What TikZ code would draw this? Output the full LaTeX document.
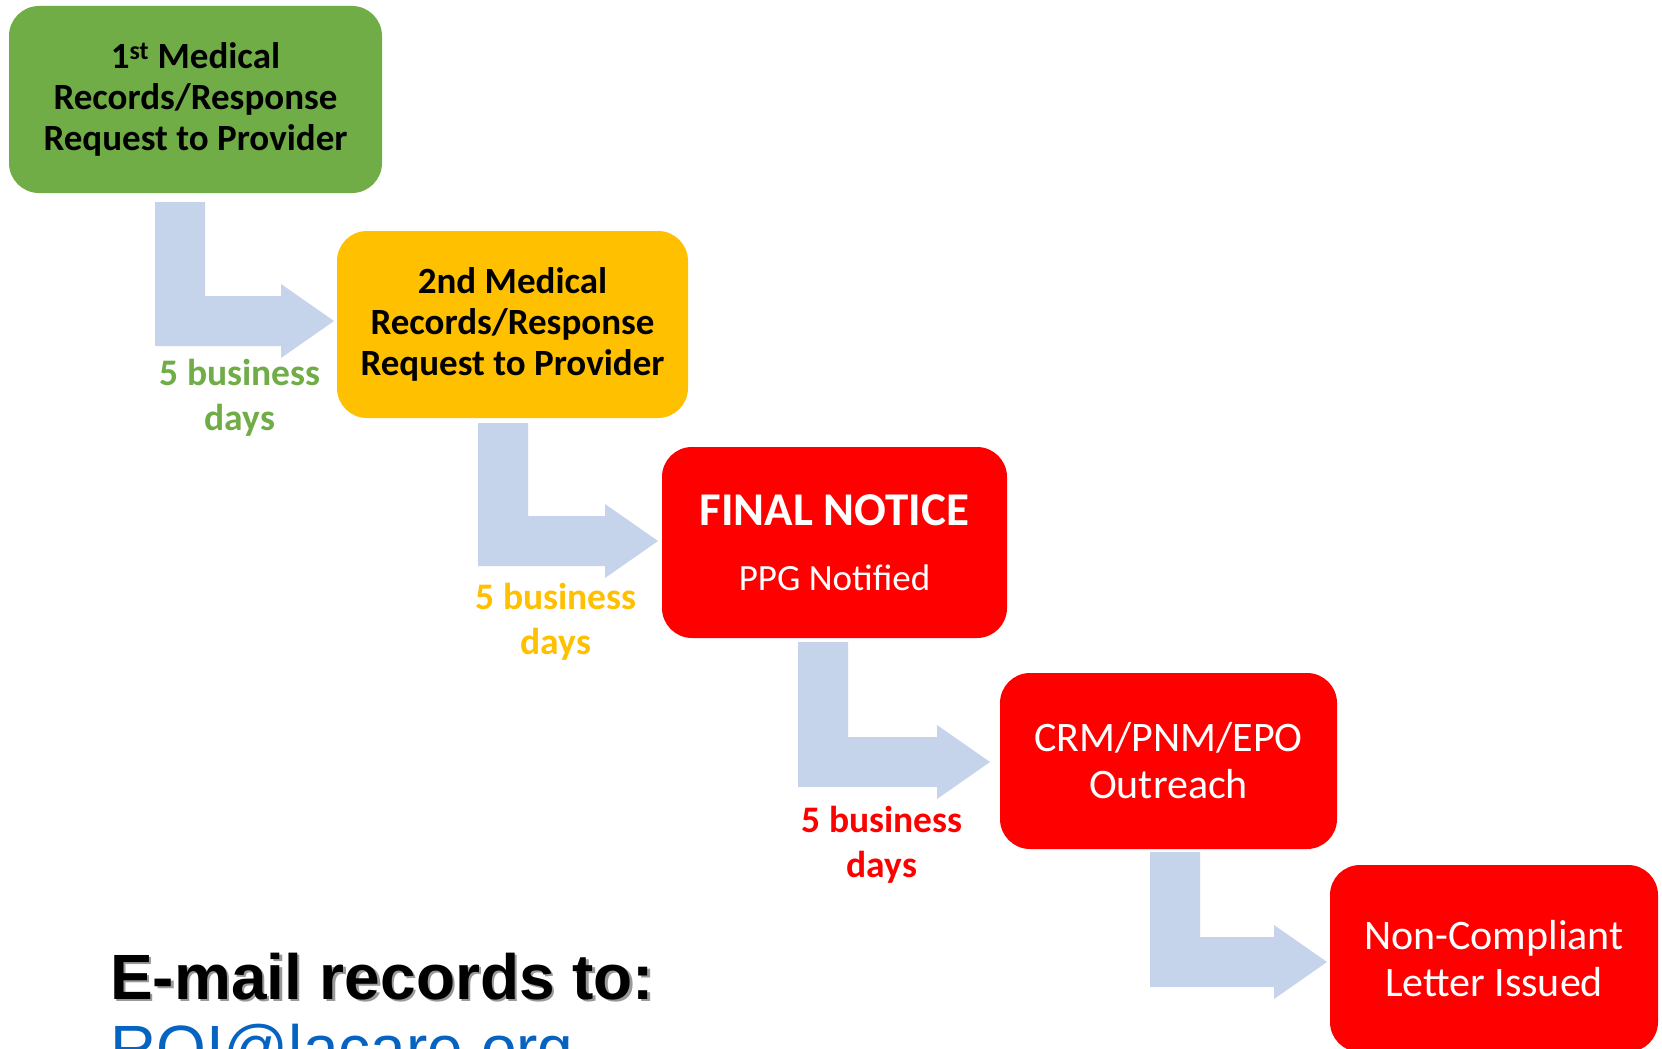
\documentclass[tikz,border=0pt]{standalone}
\usepackage{fontspec}
\setmainfont{Carlito}
\newfontfamily\arialfont{Liberation Sans}
\definecolor{boxgreen}{HTML}{70AD47}
\definecolor{boxgold}{HTML}{FFC000}
\definecolor{boxred}{HTML}{FF0000}
\definecolor{arrowblue}{RGB}{197,212,234}
\definecolor{linkblue}{HTML}{0563C1}
\begin{document}
\begin{tikzpicture}[x=1pt,y=-1pt,
  stepbox/.style={rounded corners=30pt, inner sep=0pt, align=center, draw=none},
  daylabel/.style={align=center, font=\bfseries\fontsize{37.5}{45}\selectfont},
  bentarrow/.style={fill=arrowblue, draw=none}]
\useasboundingbox (0,0) rectangle (1662,1049);
\fill[white] (0,0) rectangle (1662,1049);
% boxes
\node[stepbox, fill=boxgreen, minimum width=373pt, minimum height=187pt,
  font=\bfseries\fontsize{37}{41}\selectfont] (b1) at (195.5,99.5)
  {1\textsuperscript{st} Medical\\Records/Response\\Request to Provider};
\node[stepbox, fill=boxgold, minimum width=351pt, minimum height=187pt,
  font=\bfseries\fontsize{37}{41}\selectfont] (b2) at (512.5,324.5)
  {2nd Medical\\Records/Response\\Request to Provider};
\node[stepbox, fill=boxred, text=white, minimum width=345pt, minimum height=191pt,
  font=\fontsize{37}{65}\selectfont] (b3) at (834.5,542.5)
  {{\fontsize{47}{47}\selectfont\bfseries FINAL NOTICE}\\PPG Notified};
\node[stepbox, fill=boxred, text=white, minimum width=337pt, minimum height=176pt,
  font=\fontsize{42}{47}\selectfont] (b4) at (1168.5,761)
  {CRM/PNM/EPO\\Outreach};
\node[stepbox, fill=boxred, text=white, minimum width=328pt, minimum height=187pt,
  font=\fontsize{42}{47}\selectfont] (b5) at (1494,958.5)
  {Non-Compliant\\Letter Issued};
% bent arrows: #1 left x, #2 top, #3 bottom of horizontal bar, #4 tip x
\newcommand\bentarr[4]{%
  \fill[bentarrow] (#1,#2) -- ({#1+50},#2) -- ({#1+50},{#3-50}) -- ({#4-53},{#3-50})
    -- ({#4-53},{#3-62}) -- (#4,{#3-25}) -- ({#4-53},{#3+12}) -- ({#4-53},#3)
    -- (#1,#3) -- cycle;}
\bentarr{155}{202}{346}{334}
\bentarr{478}{423}{566}{658}
\bentarr{798}{642}{787}{990}
\bentarr{1150}{852}{987}{1327}
% labels
\node[daylabel, text=boxgreen] (l1) at (240,398) {5 business\\days};
\node[daylabel, text=boxgold] (l2) at (556,622) {5 business\\days};
\node[daylabel, text=boxred] (l3) at (882,845) {5 business\\days};
% email
\node[anchor=base west, inner sep=0pt, text=black!40, font=\arialfont\bfseries\fontsize{64}{70}\selectfont] (es) at (112.5,1001.5) {E-mail records to:};
\node[anchor=base west, inner sep=0pt, font=\arialfont\bfseries\fontsize{64}{70}\selectfont] (e1) at (110,999) {E-mail records to:};
\node[anchor=base west, inner sep=0pt, text=linkblue, font=\arialfont\fontsize{64}{70}\selectfont] (e2) at (110,1070) {ROI@lacare.org};
\end{tikzpicture}
\end{document}
